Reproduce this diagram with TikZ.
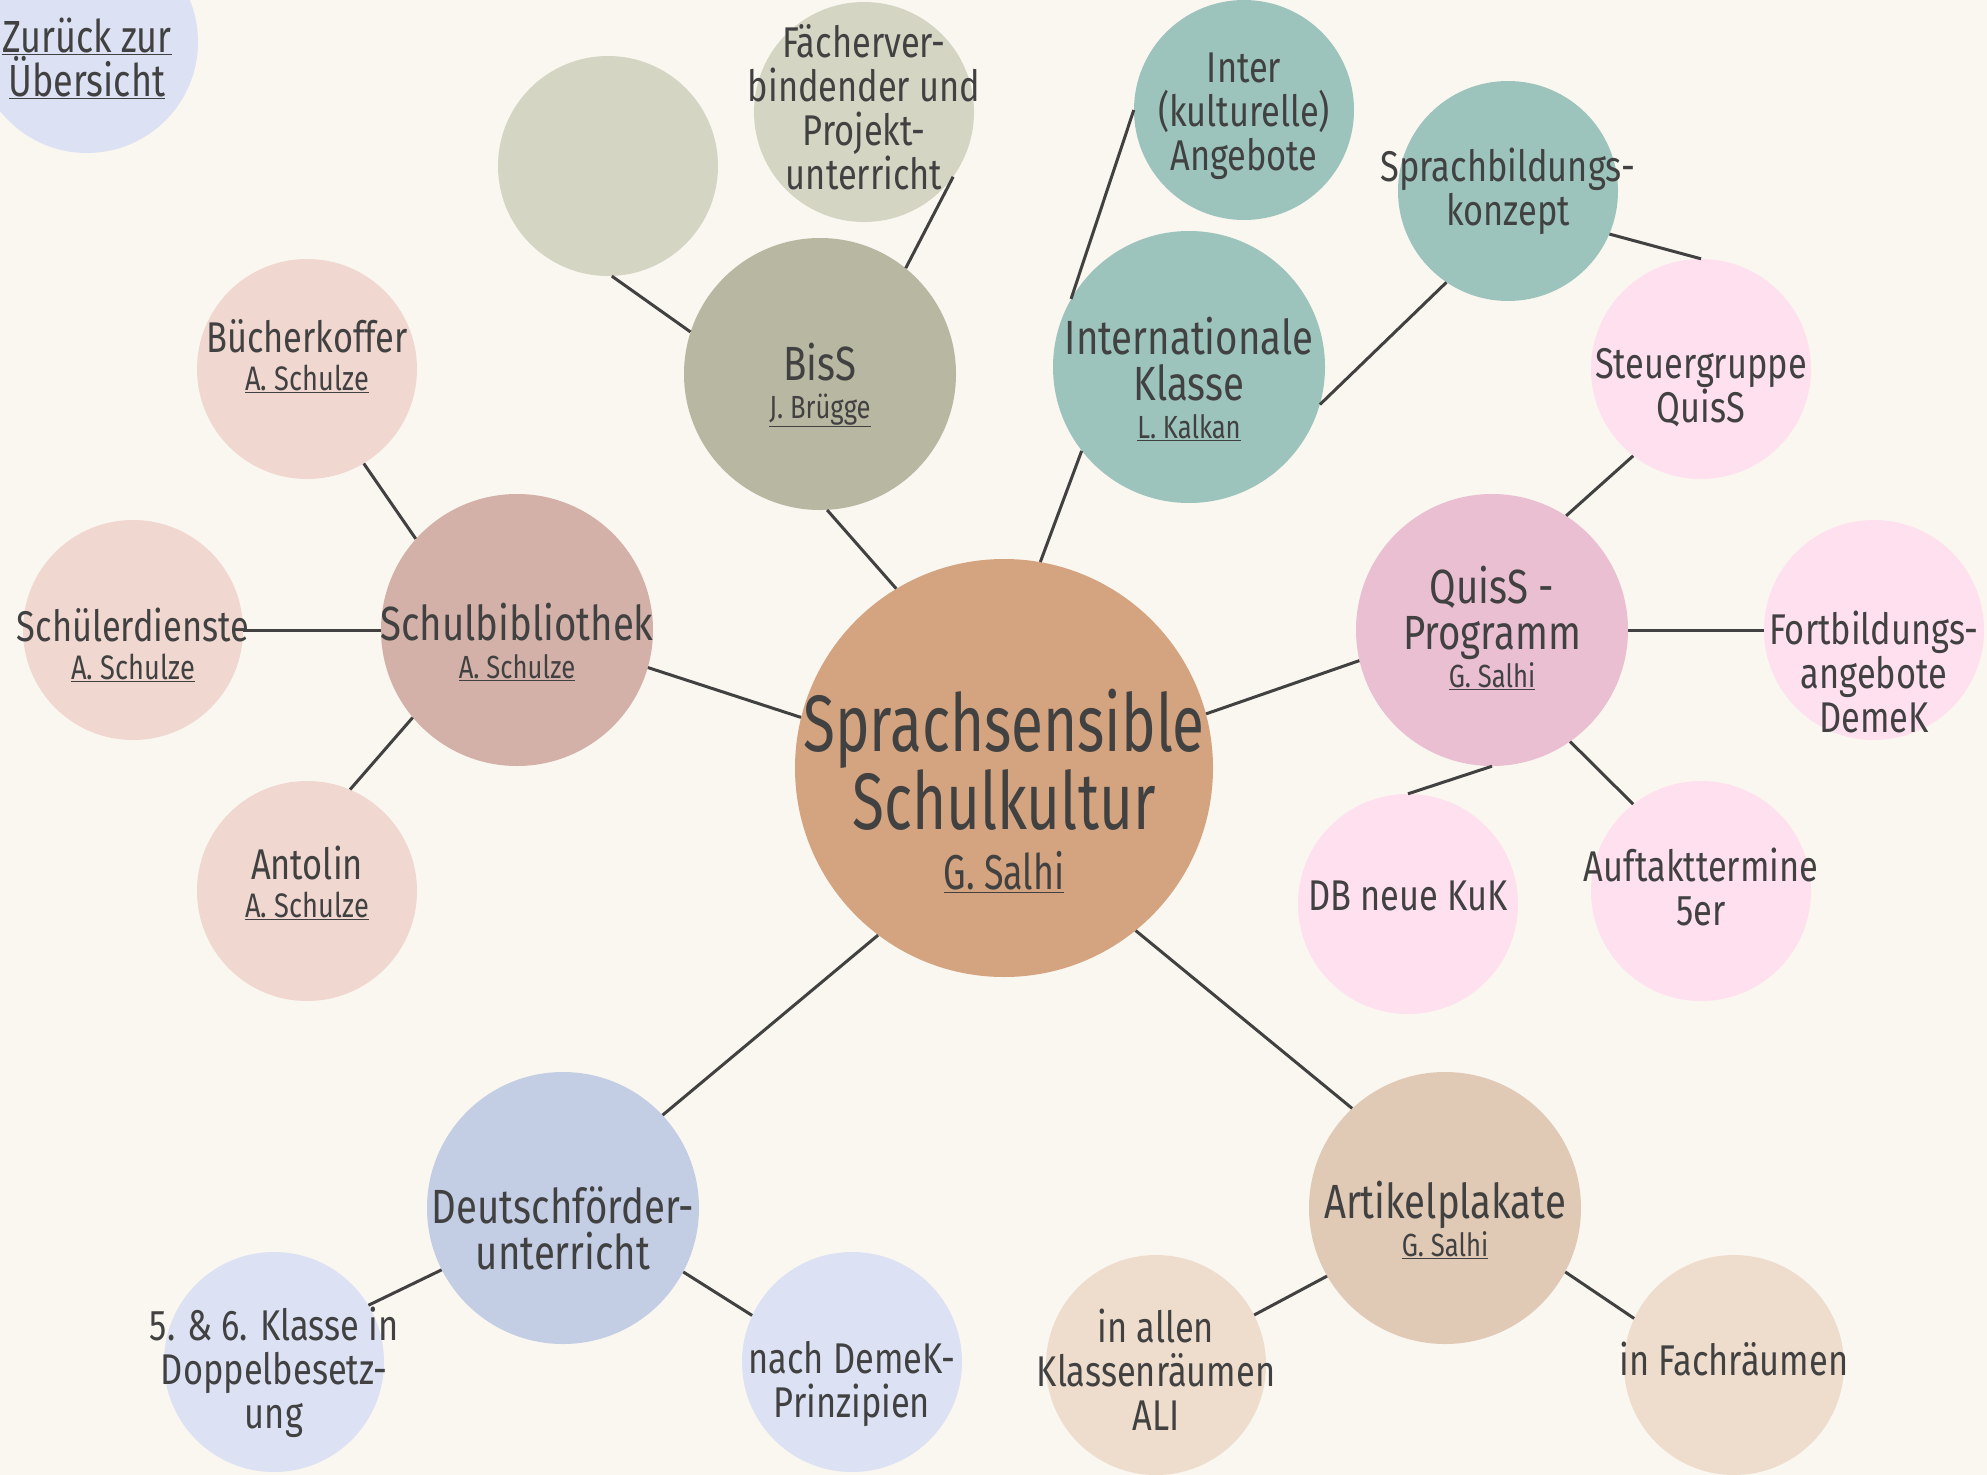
\documentclass[tikz,border=0pt]{standalone}
\usepackage{fontspec}
\setmainfont{Fira Sans}[FakeStretch=0.8]
\newfontfamily\hubfamily{Fira Sans}[FakeStretch=0.73]
\usetikzlibrary{positioning}

\definecolor{paper}{HTML}{FAF6F0}
\definecolor{ink}{HTML}{414141}
\definecolor{hubfill}{HTML}{D3A47F}
\definecolor{bissfill}{HTML}{B8B7A2}
\definecolor{bissleaf}{HTML}{D4D5C3}
\definecolor{tealfill}{HTML}{9CC4BC}
\definecolor{quissfill}{HTML}{EABFD2}
\definecolor{quissleaf}{HTML}{FFE0EE}
\definecolor{bibfill}{HTML}{D3B1A8}
\definecolor{bibleaf}{HTML}{F0D7D0}
\definecolor{dfufill}{HTML}{C3CEE4}
\definecolor{dfuleaf}{HTML}{DCE2F3}
\definecolor{plakfill}{HTML}{E0CAB6}
\definecolor{plakleaf}{HTML}{EEDDCD}

\newcommand{\who}[1]{{\fontsize{32}{32}\selectfont\underline{#1}}}
\newcommand{\leafwho}[1]{{\fontsize{34}{34}\selectfont\underline{#1}}}

\tikzset{
  hub/.style={circle, inner sep=0pt, minimum size=418pt, fill=hubfill},
  topic/.style={circle, inner sep=0pt, minimum size=272pt},
  leaf/.style={circle, inner sep=0pt, minimum size=220pt},
  hubtxt/.style={align=center, text=ink, inner sep=0pt, font=\hubfamily\fontsize{80}{76}\selectfont},
  topictxt/.style={align=center, text=ink, inner sep=0pt, font=\fontsize{48}{46}\selectfont},
  leaftxt/.style={align=center, text=ink, inner sep=0pt, font=\fontsize{43}{44}\selectfont},
  link/.style={draw=ink, line width=3pt},
}

\begin{document}
\begin{tikzpicture}[x=1pt, y=-1pt]
\clip (0,0) rectangle (1987,1475);
\fill[paper] (0,0) rectangle (1987,1475);

% back link
\node[leaf, minimum size=222pt, fill=dfuleaf,
  label={[leaftxt, font=\fontsize{45}{44}\selectfont, yshift=-16pt]center:\underline{Zurück zur}\\\underline{Übersicht}}] (back) at (87,42) {};

% centre
\node[hub, label={[hubtxt, yshift=-23pt]center:Sprachsensible\\Schulkultur\\[-16pt]{\fontsize{49}{50}\selectfont\underline{G. Salhi}}}] (kultur) at (1004,768) {};

% topics
\node[topic, fill=bissfill, label={[topictxt, yshift=-11pt]center:BisS\\[-8pt]\who{J. Brügge}}] (biss) at (820,374) {};
\node[topic, fill=tealfill, label={[topictxt, yshift=-12pt]center:Internationale\\Klasse\\[-8pt]\who{L. Kalkan}}] (ik) at (1189,367) {};
\node[topic, fill=quissfill, label={[topictxt, yshift=2pt]center:QuisS -\\Programm\\[-8pt]\who{G. Salhi}}] (quiss) at (1492,630) {};
\node[topic, fill=bibfill, label={[topictxt, yshift=-12pt]center:Schulbibliothek\\[-8pt]\who{A. Schulze}}] (bib) at (517,630) {};
\node[topic, fill=dfufill, label={[topictxt, yshift=-20pt]center:Deutschförder-\\unterricht}] (dfu) at (563,1208) {};
\node[topic, fill=plakfill, label={[topictxt, yshift=-12pt]center:Artikelplakate\\[-8pt]\who{G. Salhi}}] (plakate) at (1445,1208) {};

% leaves
\node[leaf, fill=bissleaf] (leer) at (608,166) {};
\node[leaf, fill=bissleaf, label={[leaftxt, yshift=5pt]center:Fächerver-\\bindender und\\Projekt-\\unterricht}] (faecher) at (864,112) {};
\node[leaf, fill=tealfill, label={[leaftxt, yshift=-6pt]center:Inter\\(kulturelle)\\Angebote}] (inter) at (1244,110) {};
\node[leaf, fill=tealfill, label={[leaftxt]center:Sprachbildungs-\\konzept}] (konzept) at (1508,191) {};
\node[leaf, fill=quissleaf, label={[leaftxt, yshift=-19pt]center:Steuergruppe\\QuisS}] (steuer) at (1701,369) {};
\node[leaf, fill=quissleaf, label={[leaftxt, yshift=-42pt]center:Fortbildungs-\\angebote\\DemeK}] (fobi) at (1874,630) {};
\node[leaf, fill=quissleaf, label={[leaftxt, yshift=4pt]center:Auftakttermine\\5er}] (auftakt) at (1701,891) {};
\node[leaf, fill=quissleaf, label={[leaftxt, yshift=8pt]center:DB neue KuK}] (dbkuk) at (1408,904) {};
\node[leaf, fill=bibleaf, label={[leaftxt, yshift=13pt]center:Bücherkoffer\\[-6pt]\leafwho{A. Schulze}}] (koffer) at (307,369) {};
\node[leaf, fill=bibleaf, label={[leaftxt, yshift=-15pt]center:Schülerdienste\\[-6pt]\leafwho{A. Schulze}}] (dienste) at (133,630) {};
\node[leaf, fill=bibleaf, label={[leaftxt, yshift=8pt]center:Antolin\\[-6pt]\leafwho{A. Schulze}}] (antolin) at (307,891) {};
\node[leaf, fill=dfuleaf, label={[leaftxt, yshift=-10pt]center:5. \& 6. Klasse in\\Doppelbesetz-\\ung}] (doppel) at (274,1362) {};
\node[leaf, fill=dfuleaf, label={[leaftxt, yshift=-22pt]center:nach DemeK-\\Prinzipien}] (demek) at (852,1362) {};
\node[leaf, fill=plakleaf, label={[leaftxt, yshift=-5pt]center:in allen\\Klassenräumen\\ALI}] (klassen) at (1156,1365) {};
\node[leaf, fill=plakleaf, label={[leaftxt, yshift=6pt]center:in Fachräumen}] (fach) at (1734,1365) {};

% links
\draw[link] (kultur.121.7) -- (biss.-87);
\draw[link] (biss.162.6) -- (leer.-88);
\draw[link] (biss.51) -- (faecher.-36);
\draw[link] (kultur.80) -- (ik.-142);
\draw[link] (ik.150) -- (inter.180);
\draw[link] (ik.-16) -- (konzept.-124);
\draw[link] (konzept.-23) -- (steuer.90);
\draw[link] (steuer.-128) -- (quiss.57);
\draw[link] (quiss.0) -- (fobi.180);
\draw[link] (quiss.-55) -- (auftakt.128);
\draw[link] (quiss.-90) -- (dbkuk.90);
\draw[link] (quiss.-167) -- (kultur.15);
\draw[link] (kultur.166) -- (bib.-16);
\draw[link] (bib.138) -- (koffer.-59);
\draw[link] (bib.180) -- (dienste.0);
\draw[link] (bib.-140) -- (antolin.67);
\draw[link] (kultur.-127) -- (dfu.43);
\draw[link] (dfu.-153) -- (doppel.31);
\draw[link] (dfu.-28) -- (demek.155);
\draw[link] (kultur.-51) -- (plakate.133);
\draw[link] (plakate.-150) -- (klassen.27);
\draw[link] (plakate.-28) -- (fach.155);
\end{tikzpicture}
\end{document}
